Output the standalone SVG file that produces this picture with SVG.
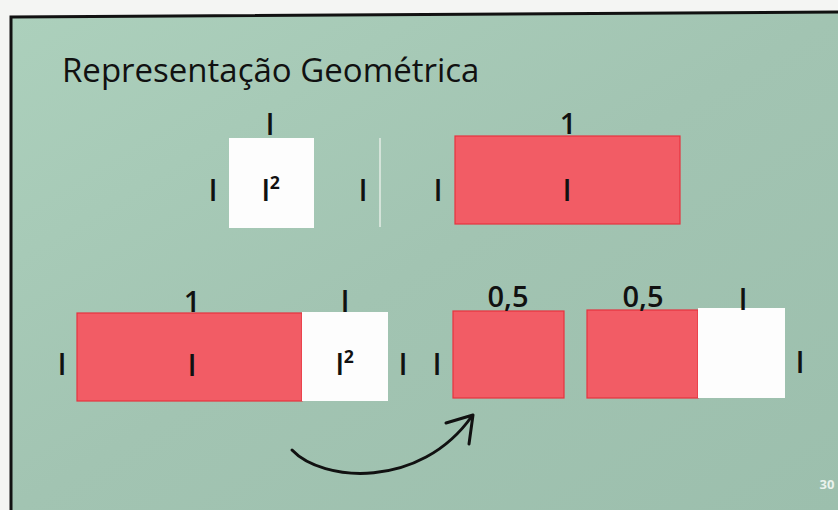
<svg xmlns="http://www.w3.org/2000/svg" width="838" height="510" viewBox="0 0 838 510">
<defs>
<linearGradient id="bg" x1="0" y1="0" x2="1" y2="1">
<stop offset="0" stop-color="#acd0bc"/>
<stop offset="0.5" stop-color="#a2c4b2"/>
<stop offset="1" stop-color="#9cbfad"/>
</linearGradient>
<style>
.lbl{font-family:"Open Sans","Liberation Sans",sans-serif;font-size:29px;font-weight:600;fill:#111;text-anchor:middle;dominant-baseline:central}
.red{fill:#f25c65;stroke:#e6323f;stroke-width:1.2}
.wht{fill:#fdfdfd}
.con{fill:none;stroke:#111;stroke-width:3;stroke-linecap:round;stroke-linejoin:round}
</style>
</defs>
<rect x="0" y="0" width="838" height="510" fill="#f4f5f3"/>
<polygon points="11,17 838,12 838,510 11,510" fill="url(#bg)"/>
<polyline points="11,510 11,17 838,12" fill="none" stroke="#111" stroke-width="3"/>
<text x="62" y="82" font-family="'Open Sans','Liberation Sans',sans-serif" font-size="33" fill="#111">Representação Geométrica</text>

<g id="square-top">
<rect class="wht" x="229" y="138" width="85" height="90"/>
<text class="lbl" x="271" y="189">l²</text>
<text class="lbl" x="270" y="123">l</text>
<text class="lbl" x="213" y="189">l</text>
<text class="lbl" x="363" y="189">l</text>
</g>
<line x1="380" y1="138" x2="380" y2="227" stroke="#e4ece6" stroke-width="1.5"/>
<g id="rect-top">
<rect class="red" x="455" y="136" width="225" height="88"/>
<text class="lbl" x="568" y="122">1</text>
<text class="lbl" x="438" y="189">l</text>
<text class="lbl" x="567" y="189">l</text>
</g>

<g id="rect-bottom-left">
<rect class="red" x="77" y="313" width="225" height="88"/>
<text class="lbl" x="192" y="300">1</text>
<text class="lbl" x="62" y="363">l</text>
<text class="lbl" x="192" y="364">l</text>
</g>
<g id="square-bottom-left">
<rect class="wht" x="302" y="312" width="86" height="89"/>
<text class="lbl" x="345" y="300">l</text>
<text class="lbl" x="345" y="363">l²</text>
<text class="lbl" x="403" y="363">l</text>
</g>

<g id="half-rect-a">
<rect class="red" x="453" y="311" width="111" height="87"/>
<text class="lbl" x="508" y="295">0,5</text>
<text class="lbl" x="437" y="363">l</text>
</g>
<g id="half-rect-b">
<rect class="red" x="587" y="310" width="111" height="88"/>
<text class="lbl" x="643" y="295">0,5</text>
</g>
<g id="square-bottom-right">
<rect class="wht" x="698" y="308" width="87" height="90"/>
<text class="lbl" x="743" y="298">l</text>
<text class="lbl" x="800" y="361">l</text>
</g>

<g id="connectors">
<path class="con" d="M292,450 C322,482 420,490 472,416"/>
<path class="con" d="M446,423 L473,415 L469,444"/>
</g>

<text x="827" y="489" font-family="'Open Sans','Liberation Sans',sans-serif" font-size="13" font-weight="bold" fill="#e9f2ed" text-anchor="middle">30</text>
</svg>
